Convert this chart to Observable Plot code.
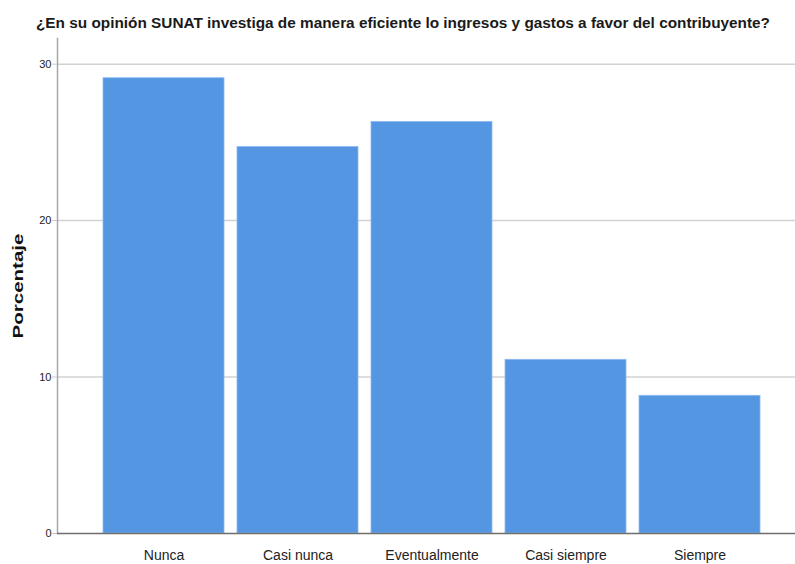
<!DOCTYPE html>
<html>
<head>
<meta charset="utf-8">
<script src="https://cdn.jsdelivr.net/npm/d3@7"></script>
<script src="https://cdn.jsdelivr.net/npm/@observablehq/plot@0.6"></script>
<style>
  html, body { margin: 0; padding: 0; background: #fff; }
  #chart { width: 795px; height: 564px; position: relative; overflow: hidden; }
  #title { display: block; }
</style>
</head>
<body>
<div id="chart"></div>
<script>
const titleText = "¿En su opinión SUNAT investiga de manera eficiente lo ingresos y gastos  a favor del contribuyente?";
const yLabel = "Porcentaje";
const categories = ["Nunca", "Casi nunca", "Eventualmente", "Casi siempre", "Siempre"];
const percentages = [29.1, 24.7, 26.3, 11.1, 8.8];
const yTicks = [0, 10, 20, 30];
const gridTicks = [10, 20, 30];

const data = categories.map((c, i) => ({category: c, value: percentages[i]}));

const chart = document.getElementById("chart");

// Title (above the plot SVG)
const ns = "http://www.w3.org/2000/svg";
const tsvg = document.createElementNS(ns, "svg");
tsvg.setAttribute("id", "title");
tsvg.setAttribute("width", 795);
tsvg.setAttribute("height", 36);
const tt = document.createElementNS(ns, "text");
tt.setAttribute("x", 36);
tt.setAttribute("y", 28);
tt.setAttribute("font-family", "'Liberation Sans', Arial, sans-serif");
tt.setAttribute("font-weight", "bold");
tt.setAttribute("font-size", "14.5");
tt.setAttribute("fill", "#1a1a1a");
tt.setAttribute("textLength", 734);
tt.setAttribute("lengthAdjust", "spacingAndGlyphs");
tt.textContent = titleText;
tsvg.appendChild(tt);
chart.appendChild(tsvg);

const plot = Plot.plot({
  width: 795,
  height: 528,
  marginTop: 2,
  marginBottom: 31,
  marginLeft: 57,
  marginRight: 0,
  style: {fontFamily: "'Liberation Sans', Arial, sans-serif", background: "#fff", color: "#222"},
  x: {domain: categories, range: [87.85, 773.8], padding: 0.1, label: null},
  y: {domain: [0, 31.64], label: null},
  marks: [
    Plot.ruleY(gridTicks, {stroke: "#d2d2d2", strokeWidth: 1.5}),
    Plot.frame({anchor: "left", stroke: "#a8a8a8", strokeWidth: 1.5, strokeOpacity: 1}),
    Plot.barY(data, {x: "category", y: "value", fill: "#5596e3", stroke: "#8bb9ef", strokeWidth: 0.8}),
    Plot.ruleY([0], {stroke: "#6e6e6e", strokeWidth: 1.5}),
    Plot.axisY({ticks: yTicks, tickSize: 5, tickPadding: 1, fontSize: 11, stroke: "#c8c8c8", label: null}),
    Plot.axisX({tickSize: 0, tickPadding: 17, fontSize: 14, label: null, fill: "#222"}),
    Plot.text([yLabel], {frameAnchor: "left", dx: -39, rotate: -90, textAnchor: "middle", fontWeight: "bold", fontSize: 14, fill: "#111", className: "ylab"})
  ]
});
chart.appendChild(plot);

// stretch y label to match reference
d3.select(plot).selectAll(".ylab text").attr("textLength", 105).attr("lengthAdjust", "spacingAndGlyphs");
</script>
</body>
</html>
